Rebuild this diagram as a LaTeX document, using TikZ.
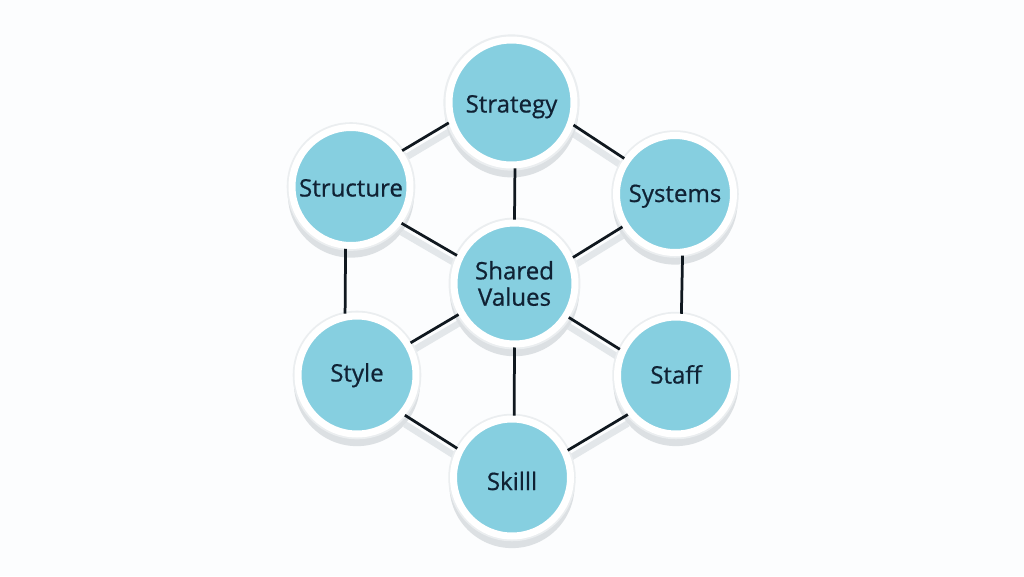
\documentclass[tikz,border=0pt]{standalone}
\usepackage{fontspec}
\setmainfont[FakeBold=0.7]{Open Sans}
\usepackage{tikz}
\usetikzlibrary{shadows, backgrounds}

\definecolor{pagetint}{HTML}{FCFDFE}
\definecolor{discfill}{HTML}{86CFE0}
\definecolor{inktone}{HTML}{102234}
\definecolor{bondink}{HTML}{10181F}
\definecolor{haloedge}{HTML}{EBEEF0}
\definecolor{castgrey}{HTML}{DCE0E3}
\definecolor{bandgrey}{HTML}{E3E7EA}

\tikzset{
	disc/.style={circle, fill=discfill, draw=white, line width=0.14cm, minimum size=#1, inner sep=0pt,
		text=inktone, font=\fontsize{13.7}{15}\selectfont, align=center,
		general shadow={fill=castgrey, shadow scale=1.07, shadow yshift=-0.15cm},
		general shadow={fill=haloedge, shadow scale=1.09}},
	lift/.style={text height=#1, text depth=0pt},
	bond/.style={draw=bondink, line width=0.055cm},
	bondcast/.style={draw=bandgrey, line width=0.13cm}
}

\begin{document}
\begin{tikzpicture}[x=0.02cm,y=-0.02cm]

	\node[disc=2.5cm,lift=0.4cm] (strategy) at (511.5,102.5) {Strategy};
	\node[disc=2.36cm,lift=0.4cm] (structure) at (351,186.5) {Structure};
	\node[disc=2.34cm,lift=0.32cm] (systems) at (675,194) {Systems};
	\node[disc=2.42cm] (shared) at (514.5,283.5) {Shared\\Values};
	\node[disc=2.36cm,lift=0.26cm] (style) at (357,375) {Style};
	\node[disc=2.34cm,lift=0.32cm] (staff) at (676,375.5) {Staff};
	\node[disc=2.34cm,lift=0.5cm] (skill) at (512,477.5) {Skilll};

	\begin{scope}[on background layer]
		\fill[pagetint] (0,0) rectangle (1024,576);
		\draw[bondcast] ([yshift=-0.18cm]strategy.198) -- ([yshift=-0.18cm]structure.35);
		\draw[bondcast] ([yshift=-0.18cm]strategy.340) -- ([yshift=-0.18cm]systems.145);
		\draw[bondcast] ([yshift=-0.18cm]structure.324) -- ([yshift=-0.18cm]shared.154);
		\draw[bondcast] ([yshift=-0.18cm]systems.212) -- ([yshift=-0.18cm]shared.24);
		\draw[bondcast] ([yshift=-0.18cm]style.31) -- ([yshift=-0.18cm]shared.209);
		\draw[bondcast] ([yshift=-0.18cm]shared.328) -- ([yshift=-0.18cm]staff.155);
		\draw[bondcast] ([yshift=-0.18cm]style.320) -- ([yshift=-0.18cm]skill.152);
		\draw[bondcast] ([yshift=-0.18cm]staff.219) -- ([yshift=-0.18cm]skill.26);
	\end{scope}

	\draw[bond] (strategy.198) -- (structure.35);
	\draw[bond] (strategy.340) -- (systems.145);
	\draw[bond] (strategy.273) -- (shared.90);
	\draw[bond] (structure.324) -- (shared.154);
	\draw[bond] (systems.212) -- (shared.24);
	\draw[bond] (structure.265) -- (style.101);
	\draw[bond] (systems.277) -- (staff.85);
	\draw[bond] (style.31) -- (shared.209);
	\draw[bond] (shared.328) -- (staff.155);
	\draw[bond] (shared.270) -- (skill.88);
	\draw[bond] (style.320) -- (skill.152);
	\draw[bond] (staff.219) -- (skill.26);
\end{tikzpicture}
\end{document}
